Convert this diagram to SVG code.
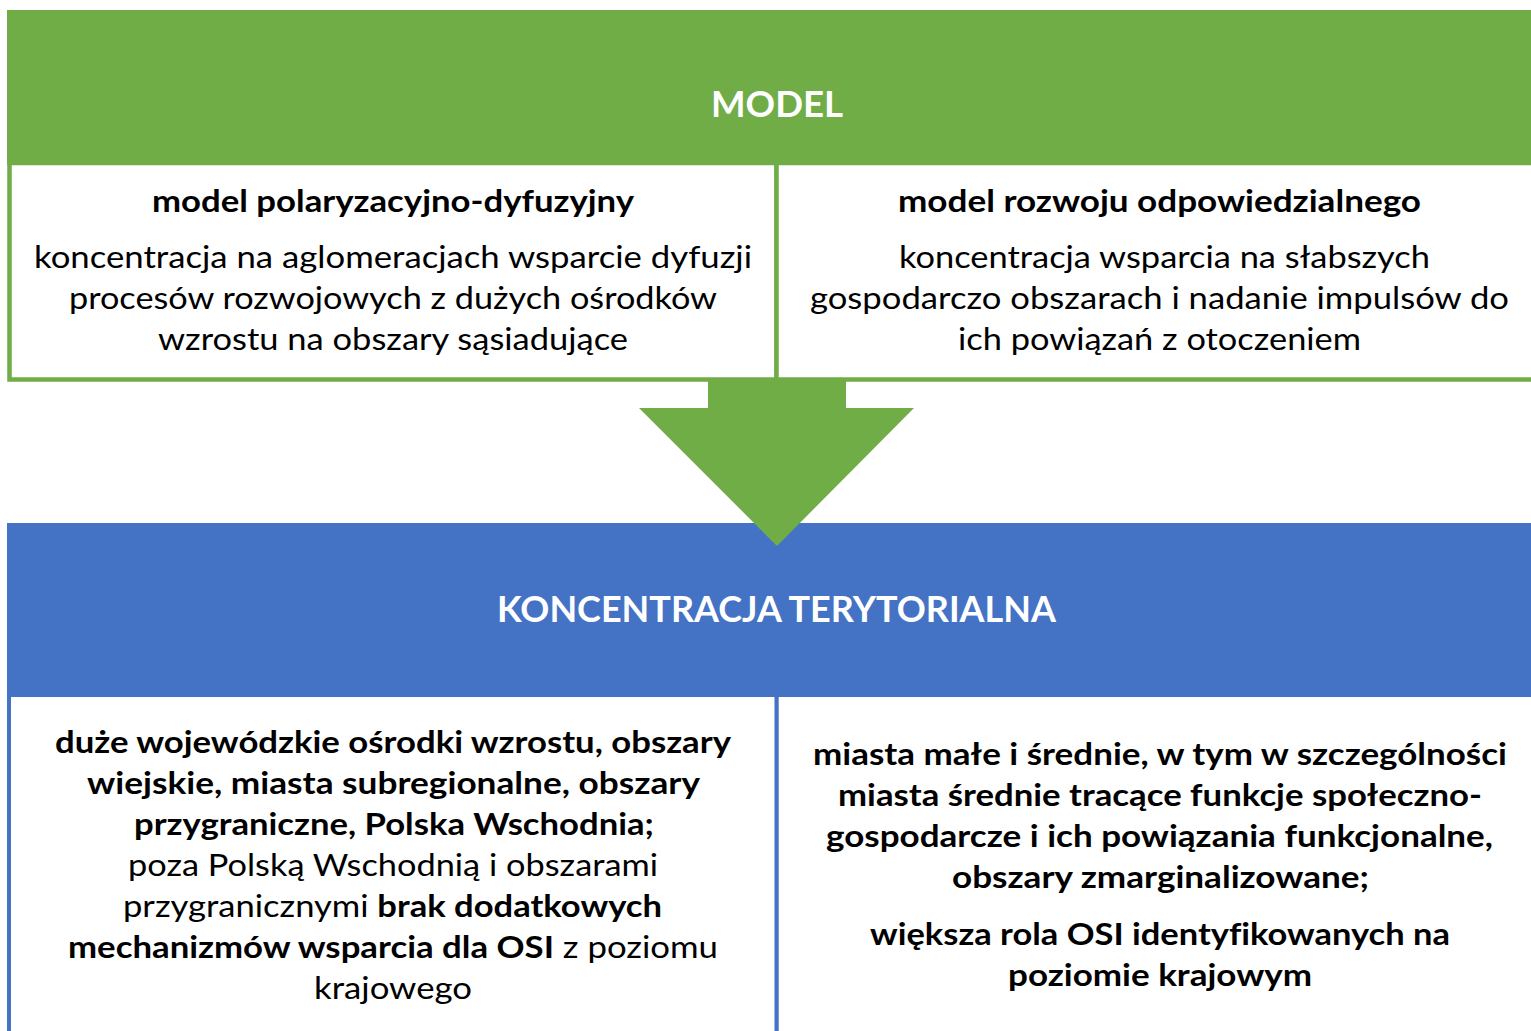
<svg xmlns="http://www.w3.org/2000/svg" width="1531" height="1031" viewBox="0 0 1531 1031">
<style>
.gbox{fill:#fff;stroke:#70AD47;stroke-width:4.5}
.bbox{fill:#fff;stroke:#4472C4;stroke-width:4}
.ghead{fill:#70AD47}
.bhead{fill:#4472C4}
text{font-family:Lato,"Liberation Sans",sans-serif;fill:#000;font-variant-ligatures:none}
.t{font-size:30px}
.b{font-weight:bold}
.h{font-size:36px;font-weight:bold;fill:#fff}
</style>
<rect width="1531" height="1031" fill="#fff"/>
<g id="box-polaryzacyjny">
<rect class="gbox" x="9.5" y="163" width="767" height="216.5"/>
<text class="t b" x="152" y="212" textLength="482" lengthAdjust="spacingAndGlyphs">model polaryzacyjno-dyfuzyjny</text>
<text class="t" x="34" y="268" textLength="718" lengthAdjust="spacingAndGlyphs">koncentracja na aglomeracjach wsparcie dyfuzji</text>
<text class="t" x="69" y="309" textLength="648" lengthAdjust="spacingAndGlyphs">procesów rozwojowych z dużych ośrodków</text>
<text class="t" x="158" y="350" textLength="470" lengthAdjust="spacingAndGlyphs">wzrostu na obszary sąsiadujące</text>
</g>
<g id="box-odpowiedzialny">
<rect class="gbox" x="776.5" y="163" width="780" height="216.5"/>
<text class="t b" x="898" y="212" textLength="523" lengthAdjust="spacingAndGlyphs">model rozwoju odpowiedzialnego</text>
<text class="t" x="899" y="268" textLength="531" lengthAdjust="spacingAndGlyphs">koncentracja wsparcia na słabszych</text>
<text class="t" x="810" y="309" textLength="699" lengthAdjust="spacingAndGlyphs">gospodarczo obszarach i nadanie impulsów do</text>
<text class="t" x="958" y="350" textLength="403" lengthAdjust="spacingAndGlyphs">ich powiązań z otoczeniem</text>
</g>
<g id="header-model">
<rect class="ghead" x="7" y="10" width="1530" height="155"/>
<text class="h" x="711" y="117" textLength="132" lengthAdjust="spacingAndGlyphs">MODEL</text>
</g>
<g id="box-duze-osrodki">
<rect class="bbox" x="9" y="695" width="767.7" height="400"/>
<text class="t b" x="55" y="753" textLength="676" lengthAdjust="spacingAndGlyphs">duże wojewódzkie ośrodki wzrostu, obszary</text>
<text class="t b" x="87" y="794" textLength="613" lengthAdjust="spacingAndGlyphs">wiejskie, miasta subregionalne, obszary</text>
<text class="t b" x="134" y="835" textLength="520" lengthAdjust="spacingAndGlyphs">przygraniczne, Polska Wschodnia;</text>
<text class="t" x="128" y="876" textLength="530" lengthAdjust="spacingAndGlyphs">poza Polską Wschodnią i obszarami</text>
<text class="t" x="123" y="917" textLength="539" lengthAdjust="spacingAndGlyphs">przygranicznymi <tspan class="b">brak dodatkowych</tspan></text>
<text class="t" x="68" y="958" textLength="650" lengthAdjust="spacingAndGlyphs"><tspan class="b">mechanizmów wsparcia dla OSI</tspan> z poziomu</text>
<text class="t" x="314" y="999" textLength="158" lengthAdjust="spacingAndGlyphs">krajowego</text>
</g>
<g id="box-miasta">
<rect class="bbox" x="776.7" y="695" width="800" height="400"/>
<text class="t b" x="813" y="765" textLength="694" lengthAdjust="spacingAndGlyphs">miasta małe i średnie, w tym w szczególności</text>
<text class="t b" x="838" y="806" textLength="644" lengthAdjust="spacingAndGlyphs">miasta średnie tracące funkcje społeczno-</text>
<text class="t b" x="826" y="847" textLength="667" lengthAdjust="spacingAndGlyphs">gospodarcze i ich powiązania funkcjonalne,</text>
<text class="t b" x="952" y="888" textLength="417" lengthAdjust="spacingAndGlyphs">obszary zmarginalizowane;</text>
<text class="t b" x="870" y="945" textLength="580" lengthAdjust="spacingAndGlyphs">większa rola OSI identyfikowanych na</text>
<text class="t b" x="1008" y="986" textLength="304" lengthAdjust="spacingAndGlyphs">poziomie krajowym</text>
</g>
<g id="header-koncentracja">
<rect class="bhead" x="7" y="523" width="1530" height="174"/>
<text class="h" x="497" y="622" textLength="559" lengthAdjust="spacingAndGlyphs">KONCENTRACJA TERYTORIALNA</text>
</g>
<g id="connectors">
<polygon fill="#70AD47" points="708,381 846,381 846,408 914,408 777,546 639,408 708,408"/>
</g>
</svg>
